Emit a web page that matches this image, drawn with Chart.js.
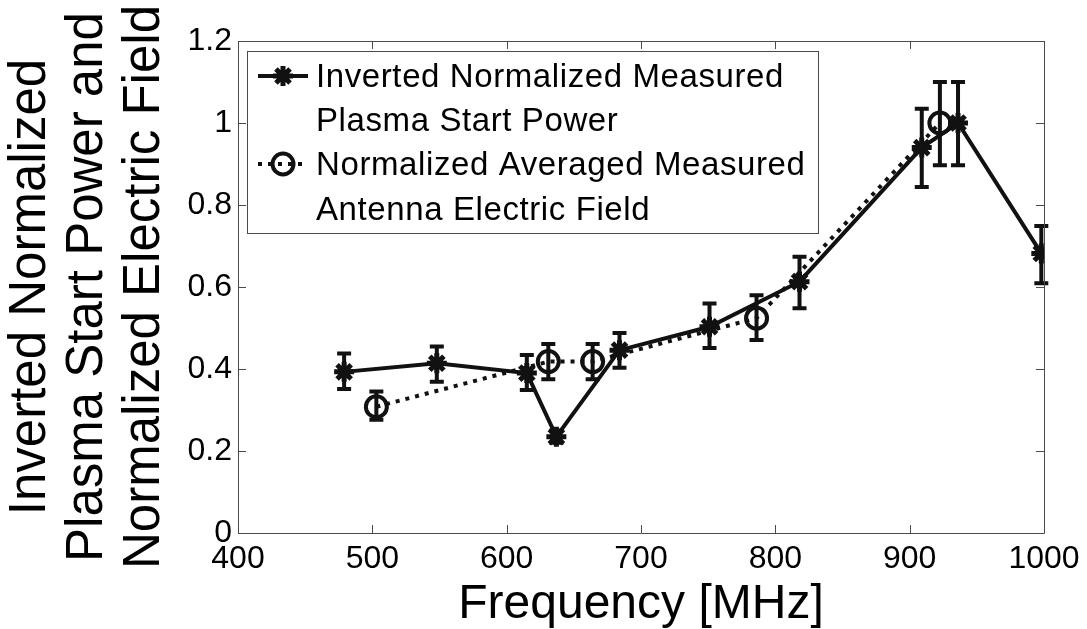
<!DOCTYPE html>
<html lang="en">
<head>
  <meta charset="UTF-8">
  <title>Plasma start power vs frequency</title>
  <style>
    body { margin: 0; background: #fff; }
    #wrap { width: 1087px; height: 629px; }
  </style>
  <script src="https://cdn.jsdelivr.net/npm/chart.js"></script>
</head>
<body>
  <div id="wrap"><canvas id="chart" width="1087" height="629"></canvas></div>

  <script>
    // inverted normalized measured plasma start power (stars, solid line)
    const powerFreq = [479, 548, 615, 637, 684, 751, 818, 909, 936, 998];
    const powerVal  = [0.393, 0.414, 0.39, 0.235, 0.446, 0.503, 0.613, 0.94, 1.0, 0.682];
    const powerLow  = [0.351, 0.369, 0.349, 0.22, 0.403, 0.451, 0.548, 0.844, 0.897, 0.609];
    const powerHigh = [0.438, 0.455, 0.434, 0.25, 0.488, 0.56, 0.674, 1.035, 1.1, 0.749];

    // normalized averaged measured antenna field (circles, dotted line)
    const fieldFreq = [503, 631, 664, 786, 922.5];
    const fieldVal  = [0.308, 0.418, 0.418, 0.524, 1.0];
    const fieldLow  = [0.276, 0.375, 0.375, 0.471, 0.897];
    const fieldHigh = [0.345, 0.461, 0.461, 0.58, 1.1];

    const xTicks = [400, 500, 600, 700, 800, 900, 1000];
    const yTicks = [0, 0.2, 0.4, 0.6, 0.8, 1, 1.2];

    const legendLines = [
      ['Inverted Normalized Measured', 'Plasma Start Power'],
      ['Normalized Averaged Measured', 'Antenna Electric Field']
    ];

    const ink = '#111';
    const frame = '#4a4a4a';
    const fontName = '"Liberation Sans", Arial, sans-serif';

    function pts(xs, ys) {
      return xs.map((x, i) => ({ x: x, y: ys[i] }));
    }

    // error bars, box, inward ticks and legend
    const extras = {
      id: 'extras',
      beforeDatasetsDraw(chart) {
        const ctx = chart.ctx;
        const xs = chart.scales.x, ys = chart.scales.y;
        const bars = [[powerFreq, powerLow, powerHigh], [fieldFreq, fieldLow, fieldHigh]];
        ctx.save();
        ctx.strokeStyle = ink;
        ctx.lineWidth = 4;
        ctx.lineCap = 'butt';
        bars.forEach(([f, lo, hi]) => {
          f.forEach((fr, i) => {
            const px = xs.getPixelForValue(fr);
            const y1 = ys.getPixelForValue(lo[i]);
            const y2 = ys.getPixelForValue(hi[i]);
            ctx.beginPath();
            ctx.moveTo(px, y1); ctx.lineTo(px, y2);
            ctx.moveTo(px - 7, y1); ctx.lineTo(px + 7, y1);
            ctx.moveTo(px - 7, y2); ctx.lineTo(px + 7, y2);
            ctx.stroke();
          });
        });
        ctx.restore();
      },
      afterDraw(chart) {
        const ctx = chart.ctx;
        const a = chart.chartArea;
        const xs = chart.scales.x, ys = chart.scales.y;
        ctx.save();
        ctx.strokeStyle = frame;
        ctx.lineWidth = 1;
        ctx.beginPath();
        ctx.rect(Math.round(a.left) + 0.5, Math.round(a.top) + 0.5,
                 Math.round(a.right - a.left), Math.round(a.bottom - a.top));
        xTicks.forEach(v => {
          const px = Math.round(xs.getPixelForValue(v)) + 0.5;
          ctx.moveTo(px, a.bottom); ctx.lineTo(px, a.bottom - 8);
          ctx.moveTo(px, a.top); ctx.lineTo(px, a.top + 8);
        });
        yTicks.forEach(v => {
          const py = Math.round(ys.getPixelForValue(v)) + 0.5;
          ctx.moveTo(a.left, py); ctx.lineTo(a.left + 8, py);
          ctx.moveTo(a.right, py); ctx.lineTo(a.right - 8, py);
        });
        ctx.stroke();

        // legend box
        const lx = 247, ly = 51, lw = 571, lh = 182;
        ctx.fillStyle = '#fff';
        ctx.fillRect(lx, ly, lw, lh);
        ctx.strokeRect(lx + 0.5, ly + 0.5, lw, lh);

        ctx.font = '33px ' + fontName;
        ctx.fillStyle = '#000';
        ctx.textBaseline = 'alphabetic';
        ctx.textAlign = 'left';
        if ('letterSpacing' in ctx) ctx.letterSpacing = '0.6px';
        const baselines = [[87, 131], [175, 220]];
        legendLines.forEach((lines, k) => {
          ctx.fillText(lines[0], 316, baselines[k][0]);
          ctx.fillText(lines[1], 316, baselines[k][1]);
        });
        if ('letterSpacing' in ctx) ctx.letterSpacing = '0px';

        // legend samples
        const sy1 = 76, sy2 = 164;
        ctx.strokeStyle = ink;
        ctx.lineWidth = 4;
        ctx.beginPath();
        ctx.moveTo(258, sy1); ctx.lineTo(308, sy1);
        ctx.stroke();
        ctx.setLineDash([4, 6]);
        ctx.beginPath();
        ctx.moveTo(258, sy2); ctx.lineTo(308, sy2);
        ctx.stroke();
        ctx.setLineDash([]);

        ctx.lineWidth = 5;
        ctx.fillStyle = ink;
        Chart.helpers.drawPoint(ctx, { pointStyle: 'star', radius: 10, borderWidth: 5 }, 283, sy1);
        ctx.lineWidth = 4;
        ctx.fillStyle = 'rgba(0,0,0,0)';
        Chart.helpers.drawPoint(ctx, { pointStyle: 'circle', radius: 10.5, borderWidth: 4 }, 283, sy2);
        ctx.restore();
      }
    };

    Chart.defaults.font.family = fontName;
    Chart.defaults.color = '#000';

    new Chart(document.getElementById('chart'), {
      type: 'line',
      data: {
        datasets: [
          {
            label: legendLines[0].join(' '),
            data: pts(powerFreq, powerVal),
            borderColor: ink,
            borderWidth: 4,
            pointStyle: 'star',
            pointRadius: 10,
            pointBorderWidth: 5,
            pointBorderColor: ink,
            pointBackgroundColor: ink,
            tension: 0
          },
          {
            label: legendLines[1].join(' '),
            data: pts(fieldFreq, fieldVal),
            borderColor: ink,
            borderWidth: 4,
            borderDash: [4, 6],
            pointStyle: 'circle',
            pointRadius: 10.5,
            pointBorderWidth: 4,
            pointBorderColor: ink,
            pointBackgroundColor: 'rgba(0,0,0,0)',
            tension: 0
          }
        ]
      },
      options: {
        responsive: false,
        animation: false,
        layout: { padding: { top: 41, right: 43, left: 0, bottom: 0 } },
        plugins: { legend: { display: false }, tooltip: { enabled: false } },
        scales: {
          x: {
            type: 'linear',
            min: 400, max: 1000,
            afterFit(s) { s.height = 96; },
            afterBuildTicks(s) { s.ticks = xTicks.map(v => ({ value: v })); },
            grid: { display: false, drawTicks: false },
            border: { display: false },
            ticks: {
              font: { size: 32 }, padding: 7, color: '#000', maxRotation: 0,
              callback: v => String(v)
            },
            title: {
              display: true,
              text: 'Frequency [MHz]',
              font: { size: 48, lineHeight: 1 },
              color: '#000',
              padding: { top: 0, bottom: 0 }
            }
          },
          y: {
            min: 0, max: 1.2,
            afterFit(s) { s.width = 238; },
            afterBuildTicks(s) { s.ticks = yTicks.map(v => ({ value: v })); },
            grid: { display: false, drawTicks: false },
            border: { display: false },
            ticks: {
              font: { size: 32 }, padding: 6, color: '#000',
              callback: v => String(+v.toFixed(1))
            },
            title: {
              display: true,
              text: ['Inverted Normalized', 'Plasma Start Power and', 'Normalized Electric Field'],
              font: { size: 51, lineHeight: 1.12 },
              color: '#000',
              padding: { top: 2, bottom: 0 }
            }
          }
        }
      },
      plugins: [extras]
    });
  </script>
</body>
</html>
